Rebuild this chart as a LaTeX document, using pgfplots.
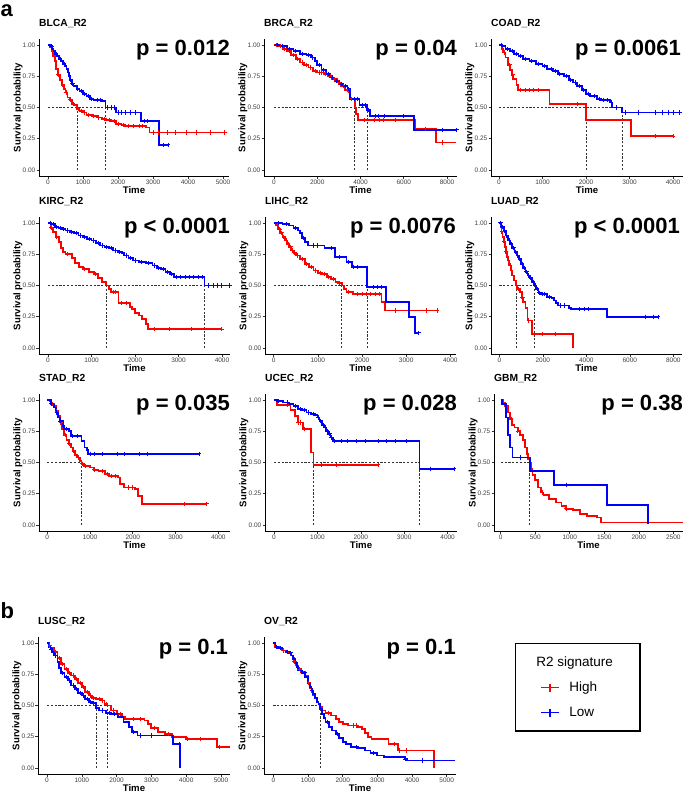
\documentclass[border=0pt]{standalone}
\usepackage{fontspec}
\setmainfont{Liberation Sans}
\usepackage{pgfplots}
\pgfplotsset{compat=1.18}

\definecolor{hicol}{HTML}{FF0000}
\definecolor{locol}{HTML}{0000FF}

\pgfplotsset{
  km/.style={
    scale only axis, height=137.5pt, anchor=south west, clip=false,
    ymin=-0.05, ymax=1.05,
    axis x line*=bottom, axis y line*=left,
    axis line style={-, line width=0.7pt, black},
    tick align=outside, major tick length=2.5pt,
    tick style={line width=0.6pt, black!80},
    ytick={0,0.25,0.5,0.75,1}, yticklabels={0.00,0.25,0.50,0.75,1.00},
    ticklabel style={font=\fontsize{6.5}{7}\selectfont, text=black!75, inner sep=1pt},
    /pgf/number format/assume math mode=true,
    xlabel={Time}, ylabel={Survival probability},
    label style={font=\bfseries\fontsize{9.6}{11}\selectfont, inner sep=0pt},
    xlabel style={at={(axis description cs:0.5,-0.102)}, anchor=center},
    ylabel style={at={(axis description cs:-0.11,0.5)}, anchor=center},
    title style={at={(axis description cs:0,1)}, anchor=base west, yshift=6.5pt,
      inner sep=0pt, font=\bfseries\fontsize{10.3}{12}\selectfont},
  },
  hi/.style={color=hicol, line width=1.8pt, const plot, forget plot},
  lo/.style={color=locol, line width=1.8pt, const plot, forget plot},
  hic/.style={only marks, mark=+, mark size=2.1pt, color=hicol, mark options={line width=1pt}, forget plot},
  loc/.style={only marks, mark=+, mark size=2.1pt, color=locol, mark options={line width=1pt}, forget plot},
  med/.style={black!80, line width=0.6pt, dash pattern=on 2.2pt off 1.6pt, forget plot},
}
\tikzset{pv/.style={anchor=base east, inner sep=0pt, font=\bfseries\fontsize{22}{24}\selectfont}}

\begin{document}
\begin{tikzpicture}
\path[use as bounding box] (0pt,0pt) rectangle (685pt,793pt);
\node[anchor=base west, inner sep=0pt, font=\bfseries\fontsize{22}{24}\selectfont] at (0.5pt,776pt) {a};
\node[anchor=base west, inner sep=0pt, font=\bfseries\fontsize{22}{24}\selectfont] at (0.5pt,174pt) {b};

% ---------- BLCA
\begin{axis}[km, at={(39pt,616.75pt)}, width=190pt, xmin=-257, xmax=5171,
  xtick={0,1000,2000,3000,4000,5000}, xticklabels={0,1000,2000,3000,4000,5000}, title={BLCA\_R2}]
\addplot[med] coordinates {(0,0.5) (1640,0.5)};
\addplot[med] coordinates {(829,0) (829,0.5)};
\addplot[med] coordinates {(1640,0) (1640,0.5)};
\addplot[hi] coordinates {(0,1) (60,0.98) (110,0.95) (150,0.91) (190,0.87) (240,0.81) (290,0.76) (340,0.72) (400,0.68) (450,0.65) (500,0.62) (560,0.58) (620,0.56) (680,0.53) (750,0.52) (829,0.49) (900,0.47) (1000,0.46) (1100,0.44) (1250,0.43) (1400,0.42) (1550,0.41) (1650,0.40) (1800,0.39) (1950,0.37) (2100,0.36) (2200,0.35) (2800,0.34) (2900,0.30) (5050,0.30)};
\addplot[lo] coordinates {(0,1) (60,0.99) (110,0.97) (160,0.95) (200,0.93) (260,0.91) (320,0.89) (380,0.87) (440,0.85) (480,0.83) (530,0.81) (570,0.78) (600,0.75) (630,0.72) (680,0.69) (730,0.67) (820,0.65) (900,0.63) (1000,0.61) (1100,0.59) (1200,0.57) (1300,0.56) (1550,0.55) (1640,0.50) (1950,0.46) (2650,0.39) (3180,0.20) (3430,0.20)};
\addplot[hic] coordinates {(300,0.76) (420,0.68) (520,0.62) (640,0.56) (720,0.53) (860,0.49) (950,0.47) (1050,0.46) (1150,0.44) (1300,0.43) (1450,0.42) (1600,0.41) (1750,0.40) (1900,0.39) (2000,0.37) (2150,0.36) (2300,0.35) (2450,0.35) (2600,0.35) (2700,0.35) (3000,0.30) (3150,0.30) (3400,0.30) (3650,0.30) (3950,0.30) (4250,0.30) (4650,0.30) (5050,0.30)};
\addplot[loc] coordinates {(100,0.99) (230,0.93) (350,0.89) (460,0.85) (650,0.72) (700,0.69) (850,0.65) (950,0.63) (1050,0.61) (1150,0.59) (1250,0.57) (1400,0.56) (1500,0.56) (1700,0.50) (1800,0.50) (1900,0.50) (2000,0.46) (2100,0.46) (2200,0.46) (2350,0.46) (2500,0.46) (2750,0.39) (2850,0.39) (3300,0.20) (3430,0.20)};
\node[pv] at (rel axis cs:1.005,0.875) {p = 0.012};
\end{axis}

% ---------- BRCA
\begin{axis}[km, at={(264pt,616.75pt)}, width=193pt, xmin=-462, xmax=8462,
  xtick={0,2000,4000,6000,8000}, xticklabels={0,2000,4000,6000,8000}, title={BRCA\_R2}]
\addplot[med] coordinates {(0,0.5) (4300,0.5)};
\addplot[med] coordinates {(3730,0) (3730,0.5)};
\addplot[med] coordinates {(4300,0) (4300,0.5)};
\addplot[hi] coordinates {(0,1) (200,0.99) (400,0.97) (600,0.95) (800,0.92) (1000,0.89) (1200,0.86) (1400,0.84) (1600,0.82) (1800,0.79) (2000,0.78) (2300,0.77) (2500,0.75) (2700,0.73) (2900,0.70) (3100,0.67) (3300,0.64) (3450,0.62) (3500,0.57) (3730,0.50) (3800,0.45) (3900,0.40) (6530,0.33) (7480,0.22) (8400,0.22)};
\addplot[lo] coordinates {(0,1) (300,0.99) (600,0.97) (900,0.95) (1200,0.93) (1500,0.92) (1700,0.90) (1900,0.87) (2000,0.84) (2200,0.80) (2400,0.77) (2600,0.74) (2800,0.71) (3000,0.69) (3200,0.67) (3400,0.65) (3500,0.57) (3950,0.52) (4300,0.48) (4450,0.43) (6490,0.32) (8460,0.32)};
\addplot[hic] coordinates {(100,1) (300,0.99) (500,0.97) (700,0.95) (900,0.92) (1100,0.89) (1300,0.86) (1500,0.84) (1700,0.82) (1900,0.79) (2100,0.78) (2200,0.78) (2400,0.77) (2600,0.75) (2800,0.73) (3000,0.70) (3200,0.67) (3400,0.64) (3600,0.57) (4200,0.40) (4650,0.40) (4900,0.40) (5050,0.40) (5600,0.40) (7000,0.33) (7800,0.22)};
\addplot[loc] coordinates {(150,1) (400,0.99) (700,0.97) (1000,0.95) (1300,0.93) (1600,0.92) (1800,0.90) (2100,0.84) (2300,0.80) (2500,0.77) (2700,0.74) (2900,0.71) (3100,0.69) (3300,0.67) (3450,0.65) (3700,0.57) (3850,0.57) (4100,0.52) (4250,0.52) (4350,0.48) (4700,0.43) (4850,0.43) (5100,0.43) (6000,0.43) (7800,0.32) (8460,0.32)};
\node[pv] at (rel axis cs:1,0.875) {p = 0.04};
\end{axis}

% ---------- COAD
\begin{axis}[km, at={(491pt,616.75pt)}, width=192pt, xmin=-184, xmax=4230,
  xtick={0,1000,2000,3000,4000}, xticklabels={0,1000,2000,3000,4000}, title={COAD\_R2}]
\addplot[med] coordinates {(0,0.5) (2830,0.5)};
\addplot[med] coordinates {(2000,0) (2000,0.5)};
\addplot[med] coordinates {(2830,0) (2830,0.5)};
\addplot[hi] coordinates {(0,1) (60,0.97) (100,0.94) (150,0.90) (200,0.84) (260,0.80) (300,0.76) (330,0.73) (400,0.68) (430,0.64) (1160,0.53) (2000,0.40) (3040,0.27) (4000,0.27)};
\addplot[lo] coordinates {(0,1) (80,0.99) (150,0.97) (250,0.95) (350,0.93) (450,0.91) (550,0.89) (700,0.87) (850,0.85) (1000,0.83) (1100,0.81) (1250,0.79) (1350,0.77) (1500,0.75) (1600,0.72) (1700,0.70) (1800,0.67) (1900,0.64) (2000,0.61) (2100,0.59) (2250,0.57) (2350,0.56) (2550,0.54) (2600,0.50) (2830,0.46) (4150,0.46)};
\addplot[hic] coordinates {(120,0.94) (250,0.84) (320,0.76) (500,0.64) (600,0.64) (700,0.64) (800,0.64) (900,0.64) (1800,0.53) (3600,0.27) (4000,0.27)};
\addplot[loc] coordinates {(50,1) (200,0.97) (300,0.95) (400,0.93) (500,0.91) (600,0.89) (750,0.87) (900,0.85) (1050,0.83) (1200,0.81) (1300,0.79) (1400,0.77) (1550,0.75) (1650,0.72) (1750,0.70) (1850,0.67) (1950,0.64) (2050,0.61) (2200,0.59) (2300,0.57) (2400,0.56) (2500,0.56) (2580,0.54) (2700,0.50) (2900,0.46) (3200,0.46) (3600,0.46) (3750,0.46) (3900,0.46) (4000,0.46) (4150,0.46)};
\node[pv] at (rel axis cs:0.99,0.875) {p = 0.0061};
\end{axis}

% ---------- KIRC
\begin{axis}[km, at={(39pt,438.75pt)}, width=191pt, xmin=-207, xmax=4184,
  xtick={0,1000,2000,3000,4000}, xticklabels={0,1000,2000,3000,4000}, title={KIRC\_R2}]
\addplot[med] coordinates {(0,0.5) (3600,0.5)};
\addplot[med] coordinates {(1330,0) (1330,0.5)};
\addplot[med] coordinates {(3600,0) (3600,0.5)};
\addplot[hi] coordinates {(0,1) (60,0.96) (120,0.93) (180,0.89) (250,0.85) (300,0.80) (350,0.77) (400,0.75) (550,0.72) (620,0.68) (720,0.65) (800,0.63) (950,0.61) (1050,0.59) (1150,0.56) (1250,0.53) (1330,0.50) (1400,0.47) (1450,0.45) (1620,0.36) (1890,0.33) (1930,0.31) (2000,0.28) (2100,0.26) (2160,0.23) (2250,0.19) (2290,0.15) (4000,0.15)};
\addplot[lo] coordinates {(0,1) (80,0.99) (160,0.97) (240,0.96) (320,0.95) (400,0.94) (500,0.93) (600,0.92) (700,0.90) (800,0.89) (900,0.87) (1000,0.86) (1100,0.84) (1200,0.82) (1300,0.81) (1400,0.80) (1500,0.78) (1600,0.77) (1700,0.76) (1750,0.74) (1850,0.72) (1950,0.70) (2100,0.69) (2250,0.68) (2400,0.66) (2500,0.64) (2600,0.63) (2700,0.61) (2800,0.59) (2900,0.57) (3600,0.50) (4180,0.50)};
\addplot[hic] coordinates {(80,0.96) (200,0.89) (450,0.75) (850,0.63) (1100,0.59) (1500,0.45) (1550,0.45) (1700,0.36) (1800,0.36) (2450,0.15) (2800,0.15) (3300,0.15) (4000,0.15)};
\addplot[loc] coordinates {(50,1) (120,0.99) (200,0.97) (280,0.96) (360,0.95) (450,0.94) (550,0.93) (650,0.92) (750,0.90) (850,0.89) (950,0.87) (1050,0.86) (1150,0.84) (1250,0.82) (1350,0.81) (1450,0.80) (1550,0.78) (1650,0.77) (1800,0.74) (1900,0.72) (2000,0.70) (2150,0.69) (2300,0.68) (2450,0.66) (2550,0.64) (2650,0.63) (2750,0.61) (2850,0.59) (2950,0.57) (3050,0.57) (3150,0.57) (3250,0.57) (3350,0.57) (3450,0.57) (3550,0.57) (3700,0.50) (3800,0.50) (3900,0.50) (4000,0.50) (4180,0.50)};
\node[pv] at (rel axis cs:1,0.875) {p < 0.0001};
\end{axis}

% ---------- LIHC
\begin{axis}[km, at={(265pt,438.75pt)}, width=191pt, xmin=-197, xmax=4129,
  xtick={0,1000,2000,3000,4000}, xticklabels={0,1000,2000,3000,4000}, title={LIHC\_R2}]
\addplot[med] coordinates {(0,0.5) (2110,0.5)};
\addplot[med] coordinates {(1540,0) (1540,0.5)};
\addplot[med] coordinates {(2110,0) (2110,0.5)};
\addplot[hi] coordinates {(0,1) (50,0.98) (100,0.95) (150,0.92) (200,0.89) (250,0.86) (300,0.83) (350,0.81) (400,0.78) (450,0.76) (500,0.74) (600,0.71) (700,0.67) (800,0.65) (900,0.62) (1000,0.60) (1100,0.59) (1200,0.57) (1300,0.55) (1400,0.53) (1450,0.52) (1540,0.50) (1600,0.47) (1650,0.45) (1800,0.43) (2440,0.37) (2520,0.30) (3700,0.30)};
\addplot[lo] coordinates {(0,1) (200,0.99) (350,0.98) (450,0.96) (550,0.94) (600,0.92) (650,0.88) (700,0.85) (780,0.82) (1150,0.80) (1390,0.73) (1650,0.69) (1770,0.65) (2110,0.49) (2550,0.37) (3070,0.25) (3200,0.12) (3290,0.12)};
\addplot[hic] coordinates {(80,0.98) (130,0.95) (180,0.92) (230,0.89) (280,0.86) (330,0.83) (380,0.81) (430,0.78) (480,0.76) (550,0.74) (650,0.71) (750,0.67) (850,0.65) (950,0.62) (1050,0.60) (1150,0.59) (1250,0.57) (1350,0.55) (1500,0.52) (1700,0.45) (1900,0.43) (2000,0.43) (2100,0.43) (2200,0.43) (2300,0.43) (2400,0.43) (2750,0.30) (3450,0.30) (3700,0.30)};
\addplot[loc] coordinates {(100,1) (300,0.99) (500,0.96) (680,0.88) (900,0.82) (1000,0.82) (1300,0.80) (1500,0.73) (1700,0.69) (1800,0.65) (1900,0.65) (2250,0.49) (2350,0.49) (2450,0.49) (3290,0.12)};
\node[pv] at (rel axis cs:1,0.875) {p = 0.0076};
\end{axis}

% ---------- LUAD
\begin{axis}[km, at={(491pt,438.75pt)}, width=191pt, xmin=-382, xmax=8400,
  xtick={0,2000,4000,6000,8000}, xticklabels={0,2000,4000,6000,8000}, title={LUAD\_R2}]
\addplot[med] coordinates {(0,0.5) (1610,0.5)};
\addplot[med] coordinates {(782,0) (782,0.5)};
\addplot[med] coordinates {(1610,0) (1610,0.5)};
\addplot[hi] coordinates {(0,1) (50,0.97) (100,0.93) (150,0.89) (200,0.85) (250,0.81) (300,0.77) (350,0.73) (400,0.70) (450,0.66) (520,0.62) (600,0.58) (680,0.54) (760,0.50) (800,0.47) (950,0.45) (1050,0.40) (1100,0.37) (1200,0.32) (1300,0.22) (1500,0.11) (3370,0.11) (3370,0)};
\addplot[lo] coordinates {(0,1) (100,0.97) (200,0.94) (300,0.90) (400,0.86) (500,0.83) (600,0.80) (700,0.77) (800,0.74) (900,0.71) (1000,0.67) (1100,0.64) (1200,0.61) (1300,0.58) (1400,0.56) (1500,0.53) (1610,0.50) (1700,0.47) (1800,0.44) (1900,0.43) (2200,0.41) (2400,0.40) (2500,0.38) (2600,0.36) (2700,0.34) (3200,0.32) (3300,0.31) (4950,0.25) (7300,0.25)};
\addplot[hic] coordinates {(120,0.93) (220,0.85) (300,0.77) (500,0.66) (900,0.47) (1070,0.40) (1350,0.22) (2000,0.11) (2600,0.11)};
\addplot[loc] coordinates {(50,1) (150,0.97) (250,0.94) (350,0.90) (450,0.86) (550,0.83) (650,0.80) (750,0.77) (850,0.74) (950,0.71) (1050,0.67) (1150,0.64) (1250,0.61) (1350,0.58) (1450,0.56) (1550,0.53) (1650,0.50) (1750,0.47) (1850,0.44) (2000,0.43) (2100,0.43) (2300,0.41) (2800,0.34) (3000,0.34) (3700,0.31) (3900,0.31) (4100,0.31) (6700,0.25) (7100,0.25) (7300,0.25)};
\node[pv] at (rel axis cs:0.99,0.875) {p < 0.0001};
\end{axis}

% ---------- STAD
\begin{axis}[km, at={(39pt,261.75pt)}, width=191pt, xmin=-194, xmax=4274,
  xtick={0,1000,2000,3000,4000}, xticklabels={0,1000,2000,3000,4000}, title={STAD\_R2}]
\addplot[med] coordinates {(0,0.5) (803,0.5)};
\addplot[med] coordinates {(803,0) (803,0.5)};
\addplot[hi] coordinates {(0,1) (50,0.99) (100,0.97) (150,0.95) (200,0.91) (250,0.87) (300,0.82) (350,0.77) (400,0.72) (450,0.68) (500,0.65) (550,0.62) (600,0.59) (650,0.56) (700,0.54) (760,0.51) (800,0.49) (850,0.47) (1000,0.46) (1100,0.44) (1200,0.43) (1350,0.41) (1450,0.39) (1650,0.38) (1700,0.33) (1800,0.30) (2050,0.29) (2130,0.23) (2220,0.17) (3730,0.17)};
\addplot[lo] coordinates {(0,1) (80,0.97) (150,0.94) (200,0.90) (250,0.86) (300,0.83) (360,0.79) (400,0.77) (500,0.75) (560,0.71) (800,0.67) (870,0.62) (920,0.60) (960,0.57) (3550,0.57)};
\addplot[hic] coordinates {(120,0.97) (220,0.91) (320,0.82) (420,0.72) (520,0.65) (620,0.59) (720,0.54) (820,0.49) (900,0.47) (1100,0.44) (1300,0.43) (1400,0.41) (1500,0.39) (1600,0.39) (1900,0.30) (2000,0.30) (3200,0.17) (3730,0.17)};
\addplot[loc] coordinates {(100,0.97) (220,0.90) (300,0.83) (450,0.77) (600,0.71) (700,0.71) (1000,0.57) (1100,0.57) (1300,0.57) (1650,0.57) (1800,0.57) (2150,0.57) (2350,0.57) (3550,0.57)};
\node[pv] at (rel axis cs:1,0.875) {p = 0.035};
\end{axis}

% ---------- UCEC
\begin{axis}[km, at={(265pt,261.75pt)}, width=192pt, xmin=-208, xmax=4216,
  xtick={0,1000,2000,3000,4000}, xticklabels={0,1000,2000,3000,4000}, title={UCEC\_R2}]
\addplot[med] coordinates {(0,0.5) (3350,0.5)};
\addplot[med] coordinates {(910,0) (910,0.5)};
\addplot[med] coordinates {(3350,0) (3350,0.5)};
\addplot[hi] coordinates {(0,1) (60,0.96) (380,0.92) (480,0.87) (560,0.82) (660,0.77) (860,0.58) (910,0.48) (2400,0.48)};
\addplot[lo] coordinates {(0,1) (80,0.99) (200,0.98) (350,0.97) (450,0.95) (550,0.93) (650,0.92) (750,0.90) (850,0.89) (950,0.88) (1000,0.86) (1050,0.83) (1100,0.80) (1150,0.78) (1200,0.75) (1250,0.73) (1300,0.70) (1350,0.67) (3350,0.45) (4150,0.45)};
\addplot[hic] coordinates {(300,0.96) (560,0.82) (620,0.82) (700,0.77) (1100,0.48) (1450,0.48) (2400,0.48)};
\addplot[loc] coordinates {(100,0.99) (300,0.98) (500,0.95) (600,0.93) (700,0.92) (800,0.90) (900,0.89) (1020,0.86) (1080,0.83) (1130,0.80) (1180,0.78) (1230,0.75) (1280,0.73) (1320,0.70) (1400,0.67) (1550,0.67) (1700,0.67) (1900,0.67) (2100,0.67) (2400,0.67) (2600,0.67) (2800,0.67) (3050,0.67) (3600,0.45) (4150,0.45)};
\node[pv] at (rel axis cs:1,0.875) {p = 0.028};
\end{axis}

% ---------- GBM
\begin{axis}[km, at={(494pt,261.75pt)}, width=189pt, xmin=-97, xmax=2640,
  xtick={0,500,1000,1500,2000,2500}, xticklabels={0,500,1000,1500,2000,2500}, title={GBM\_R2}]
\addplot[med] coordinates {(0,0.5) (415,0.5)};
\addplot[med] coordinates {(415,0) (415,0.5)};
\addplot[hi] coordinates {(0,1) (30,0.98) (60,0.95) (100,0.90) (130,0.85) (160,0.80) (200,0.78) (250,0.75) (280,0.72) (320,0.68) (350,0.62) (380,0.57) (400,0.53) (420,0.50) (440,0.45) (460,0.40) (500,0.36) (540,0.30) (580,0.26) (620,0.24) (700,0.21) (800,0.18) (880,0.15) (950,0.13) (1050,0.12) (1150,0.09) (1250,0.07) (1400,0.06) (1450,0.02) (2640,0.02)};
\addplot[lo] coordinates {(0,1) (20,0.97) (80,0.86) (110,0.72) (130,0.62) (170,0.54) (420,0.43) (770,0.32) (1540,0.16) (2130,0.01)};
\addplot[hic] coordinates {(150,0.85) (250,0.75) (600,0.26) (950,0.13)};
\addplot[loc] coordinates {(290,0.54) (950,0.32)};
\node[pv] at (rel axis cs:1,0.875) {p = 0.38};
\end{axis}

% ---------- LUSC
\begin{axis}[km, at={(38pt,18.75pt)}, width=192pt, xmin=-259, xmax=5259,
  xtick={0,1000,2000,3000,4000,5000}, xticklabels={0,1000,2000,3000,4000,5000}, title={LUSC\_R2}]
\addplot[med] coordinates {(0,0.5) (1730,0.5)};
\addplot[med] coordinates {(1410,0) (1410,0.5)};
\addplot[med] coordinates {(1730,0) (1730,0.5)};
\addplot[hi] coordinates {(0,1) (50,0.98) (100,0.96) (200,0.93) (300,0.88) (400,0.83) (500,0.79) (600,0.76) (700,0.74) (800,0.71) (900,0.68) (1000,0.65) (1100,0.61) (1200,0.58) (1300,0.56) (1400,0.55) (1550,0.54) (1650,0.51) (1730,0.50) (1850,0.46) (2000,0.43) (2150,0.41) (2250,0.39) (2800,0.38) (2900,0.35) (3000,0.32) (3200,0.29) (3400,0.27) (3600,0.25) (4000,0.23) (4880,0.17) (5250,0.17)};
\addplot[lo] coordinates {(0,1) (50,0.97) (100,0.95) (150,0.93) (200,0.90) (300,0.85) (350,0.80) (400,0.76) (500,0.73) (600,0.70) (700,0.66) (800,0.63) (900,0.60) (1000,0.58) (1100,0.55) (1200,0.53) (1300,0.52) (1410,0.48) (1500,0.46) (1700,0.44) (1850,0.43) (2050,0.41) (2200,0.37) (2350,0.33) (2450,0.29) (2600,0.26) (3620,0.19) (3830,0)};
\addplot[hic] coordinates {(80,0.98) (250,0.93) (350,0.88) (450,0.83) (550,0.79) (650,0.76) (750,0.74) (850,0.71) (950,0.68) (1050,0.65) (1150,0.61) (1250,0.58) (1350,0.56) (1500,0.55) (1600,0.54) (1700,0.51) (1900,0.46) (2100,0.43) (2500,0.39) (2700,0.39) (3100,0.32) (3500,0.27) (4050,0.23) (4400,0.23) (4950,0.17)};
\addplot[loc] coordinates {(120,0.95) (250,0.90) (450,0.76) (550,0.73) (650,0.70) (750,0.66) (850,0.63) (950,0.60) (1050,0.58) (1150,0.55) (1250,0.53) (1350,0.52) (1600,0.46) (1800,0.44) (1950,0.43) (2500,0.29) (2700,0.26) (3000,0.26) (3800,0.19)};
\node[pv] at (rel axis cs:0.99,0.87) {p = 0.1};
\end{axis}

% ---------- OV
\begin{axis}[km, at={(264pt,18.75pt)}, width=192pt, xmin=-272, xmax=5269,
  xtick={0,1000,2000,3000,4000,5000}, xticklabels={0,1000,2000,3000,4000,5000}, title={OV\_R2},
  legend cell align=left,
  legend style={at={(rel axis cs:1.307,0.955)}, anchor=north west, draw=black, line width=1.4pt,
    font=\fontsize{13.5}{16}\selectfont, inner xsep=25pt, inner ysep=11pt, row sep=10pt,
    /tikz/every odd column/.append style={column sep=8pt}}]
\addlegendimage{empty legend}
\addlegendentry{\hspace*{-33pt}R2 signature}
\addlegendimage{color=hicol, line width=1.6pt, mark=+, mark size=4pt, mark options={line width=1.6pt}}
\addlegendentry{High}
\addlegendimage{color=locol, line width=1.6pt, mark=+, mark size=4pt, mark options={line width=1.6pt}}
\addlegendentry{Low}
\addplot[med] coordinates {(0,0.5) (1340,0.5)};
\addplot[med] coordinates {(1340,0) (1340,0.5)};
\addplot[hi] coordinates {(0,1) (50,0.97) (150,0.96) (250,0.94) (350,0.93) (450,0.92) (500,0.90) (550,0.88) (600,0.85) (650,0.82) (700,0.79) (800,0.77) (900,0.74) (1000,0.68) (1050,0.64) (1100,0.61) (1150,0.58) (1200,0.56) (1250,0.53) (1300,0.51) (1340,0.49) (1400,0.46) (1500,0.44) (1650,0.42) (1800,0.39) (1900,0.37) (2000,0.35) (2150,0.34) (2450,0.33) (2550,0.31) (2650,0.28) (2730,0.25) (2830,0.23) (3320,0.19) (3600,0.14) (4640,0.14) (4640,0)};
\addplot[lo] coordinates {(0,1) (60,0.97) (140,0.96) (260,0.94) (360,0.93) (440,0.92) (520,0.90) (570,0.87) (620,0.84) (680,0.81) (720,0.78) (820,0.76) (920,0.73) (1000,0.68) (1050,0.65) (1100,0.62) (1150,0.59) (1200,0.56) (1250,0.53) (1300,0.51) (1340,0.47) (1400,0.43) (1450,0.40) (1500,0.37) (1600,0.33) (1700,0.30) (1800,0.27) (1900,0.24) (2000,0.21) (2100,0.19) (2250,0.17) (2450,0.16) (2650,0.14) (2800,0.12) (3000,0.10) (3200,0.09) (3800,0.07) (3850,0.06) (5250,0.06)};
\addplot[hic] coordinates {(100,0.97) (300,0.94) (480,0.92) (600,0.85) (750,0.79) (1020,0.68) (1600,0.44) (2300,0.34) (2400,0.34) (3500,0.19) (3650,0.14) (3850,0.14)};
\addplot[loc] coordinates {(100,0.97) (200,0.96) (400,0.93) (500,0.92) (900,0.76) (1120,0.62) (1550,0.37) (1850,0.27) (2400,0.17) (2900,0.12) (3800,0.07) (4300,0.06)};
\node[pv] at (rel axis cs:1,0.87) {p = 0.1};
\end{axis}
\end{tikzpicture}
\end{document}
